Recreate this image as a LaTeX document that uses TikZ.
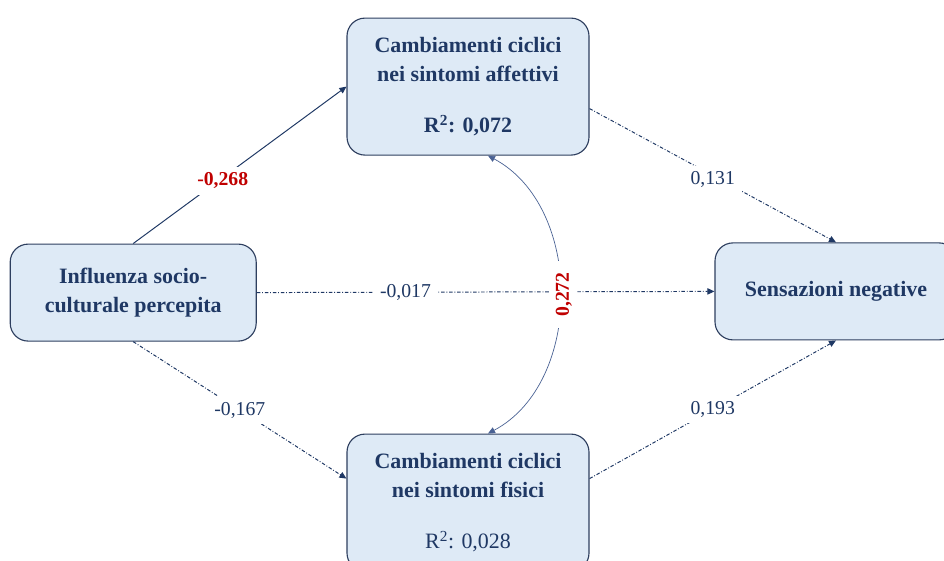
\documentclass[tikz,border=0pt]{standalone}
\usepackage{fontspec}
\setmainfont{Liberation Serif}
\usepackage{xcolor}
\usepackage{tikz}
\usetikzlibrary{arrows.meta}

\definecolor{navy}{HTML}{1F3864}
\definecolor{boxfill}{HTML}{DEEAF6}
\definecolor{boxline}{HTML}{2E3F5F}
\definecolor{coefred}{HTML}{C00000}
\definecolor{curveline}{HTML}{4A6294}

\tikzset{
  construct/.style={draw=boxline, line width=0.8pt, fill=boxfill, rounded corners=0.45cm,
    align=center, text=navy, font=\fontsize{15.6}{20.6}\selectfont\bfseries},
  path/.style={draw=navy, line width=0.7pt, -{Triangle[length=5pt,width=4.5pt]}},
  weakpath/.style={path, dash pattern=on 2.5pt off 1.3pt on 0.6pt off 1.3pt},
  coef/.style={fill=white, text=navy, inner xsep=5pt, inner ysep=4pt, font=\fontsize{14}{16}\selectfont},
  sigcoef/.style={coef, text=coefred, font=\fontsize{14}{16}\selectfont\bfseries}
}

\begin{document}
\begin{tikzpicture}
\useasboundingbox (0,0) rectangle (23.6,14.025);
\clip (0,0) rectangle (23.6,14.025);

% constructs
\node[construct, minimum width=6.05cm, minimum height=3.425cm] (affettivi) at (11.70,11.86)
  {Cambiamenti ciclici\\nei sintomi affettivi\\[15.7pt]R\textsuperscript{2}: 0,072};
\node[construct, minimum width=6.15cm, minimum height=2.425cm] (influenza) at (3.33,6.71)
  {Influenza socio-\\culturale percepita};
\node[construct, minimum width=6.05cm, minimum height=2.425cm] (sensazioni) at (20.90,6.74)
  {Sensazioni negative};
\node[construct, minimum width=6.05cm, minimum height=3.425cm] (fisici) at (11.70,1.46)
  {Cambiamenti ciclici\\nei sintomi fisici\\[15.7pt]\mdseries R\textsuperscript{2}: 0,028};

% paths
\draw[path] (influenza.north) -- node[sigcoef, pos=0.42, yshift=-0.08cm] {-0,268} (affettivi.west);
\draw[weakpath] (influenza.east) -- node[coef, pos=0.325] {-0,017} (sensazioni.west);
\draw[weakpath] (influenza.south) -- node[coef, pos=0.5] {-0,167} ([yshift=0.6cm]fisici.west);
\draw[weakpath] ([yshift=-0.55cm]affettivi.east) -- node[coef, pos=0.5, yshift=-0.1cm] {0,131} (sensazioni.north);
\draw[weakpath] ([yshift=0.6cm]fisici.east) -- node[coef, pos=0.5] {0,193} (sensazioni.south);

% covariance
\draw[draw=curveline, line width=0.5pt, {Triangle[length=5pt,width=4.5pt]}-{Triangle[length=5pt,width=4.5pt]}]
  ([xshift=0.5cm]affettivi.south) to[bend left=62]
  node[sigcoef, rotate=90, midway, inner xsep=8pt, yshift=-0.1cm] {0,272}
  ([xshift=0.5cm]fisici.north);
\end{tikzpicture}
\end{document}
